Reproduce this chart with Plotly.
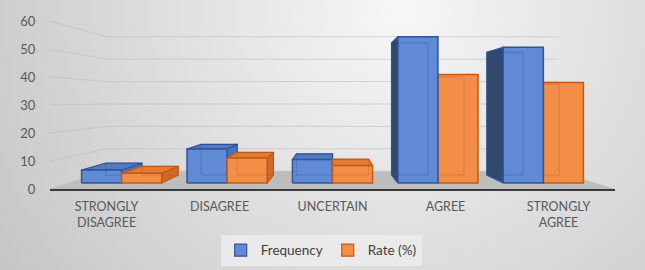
import base64
import plotly.graph_objects as go

# ---------------- data ----------------
categories = ["STRONGLY<br>DISAGREE", "DISAGREE", "UNCERTAIN", "AGREE", "STRONGLY<br>AGREE"]
frequency = [5, 13, 9, 56, 52]
rate = [3.7, 9.6, 6.7, 41.5, 38.5]
y_ticks = [0, 10, 20, 30, 40, 50, 60]
series_names = ["Frequency", "Rate (%)"]

# ---------------- 3D look (perspective) ----------------
XV, VV = 2.0, 31.8            # vanishing point in data units
S_WALL, S_FRONT, S_BACK = 0.80, 0.933, 0.843
BAR_W = 0.38
X_MIN, X_MAX = -0.5, 4.5

BLUE = dict(front="#6089D6", side_dark="#33486E", side="#4C72BC", top="#5578C2",
            line="#2F5597", back="rgba(40,75,140,0.3)")
ORANGE = dict(front="#F28E45", side_dark="#B85E22", side="#CD6B2C", top="#E27C34",
              line="#C55A11", back="rgba(180,80,15,0.3)")


def proj(x, v, s):
    return XV + s * (x - XV), VV + s * (v - VV)


def polygon(pts):
    xs, ys = [], []
    for (x, v, s) in pts + [pts[0]]:
        px, py = proj(x, v, s)
        xs.append(px)
        ys.append(py)
    return xs, ys


fig = go.Figure()

# wall gridlines (left wall + back wall)
gx, gy = [], []
for v in y_ticks:
    for (x, s) in [(X_MIN, 1.0), (X_MIN, S_WALL), (X_MAX, S_WALL)]:
        px, py = proj(x, v, s)
        gx.append(px)
        gy.append(py)
    gx.append(None)
    gy.append(None)
fig.add_trace(go.Scatter(x=gx, y=gy, mode="lines", line=dict(color="rgba(185,185,185,0.55)", width=1),
                         hoverinfo="skip", showlegend=False))

# floor
fx, fy = polygon([(X_MIN, 0, 1.0), (X_MAX, 0, 1.0), (X_MAX, 0, S_WALL), (X_MIN, 0, S_WALL)])
fig.add_trace(go.Scatter(x=fx, y=fy, mode="lines", fill="toself", fillcolor="#BDBDBD",
                         line=dict(width=0), hoverinfo="skip", showlegend=False))


def add_face(pts, fill, line_color, width=1.2):
    xs, ys = polygon(pts)
    fig.add_trace(go.Scatter(x=xs, y=ys, mode="lines", fill="toself", fillcolor=fill,
                             line=dict(color=line_color, width=width), hoverinfo="skip",
                             showlegend=False))


def add_bar(x0, x1, h, col, draw_left_side=True):
    sf, sb = S_FRONT, S_BACK
    if x1 <= XV:
        add_face([(x1, 0, sf), (x1, 0, sb), (x1, h, sb), (x1, h, sf)], col["side"], col["line"])
    elif x0 >= XV and draw_left_side:
        add_face([(x0, 0, sf), (x0, 0, sb), (x0, h, sb), (x0, h, sf)], col["side_dark"], col["line"])
    if h < VV:
        add_face([(x0, h, sf), (x1, h, sf), (x1, h, sb), (x0, h, sb)], col["top"], col["line"])
    add_face([(x0, 0, sf), (x1, 0, sf), (x1, h, sf), (x0, h, sf)], col["front"], col["line"], 1.5)
    bx, by = polygon([(x0, 0, sb), (x1, 0, sb), (x1, h, sb), (x0, h, sb)])
    fig.add_trace(go.Scatter(x=bx, y=by, mode="lines", line=dict(color=col["back"], width=1),
                             hoverinfo="skip", showlegend=False))


order = sorted(range(len(categories)), key=lambda i: -abs(i - XV))
for i in order:
    blue = (i - BAR_W, i, frequency[i], BLUE)
    orange = (i, i + BAR_W, rate[i], ORANGE)
    if i > XV:
        add_bar(*orange, draw_left_side=False)
        add_bar(*blue)
    else:
        add_bar(*blue)
        add_bar(*orange)

# legend entries
for name, col in zip(series_names, [BLUE, ORANGE]):
    fig.add_trace(go.Bar(x=[None], y=[None], name=name,
                         marker=dict(color=col["front"], line=dict(color=col["line"], width=1.2))))

# background gradient
svg = ("<svg xmlns='http://www.w3.org/2000/svg' width='645' height='270' viewBox='0 0 645 270' "
       "preserveAspectRatio='none'><defs><radialGradient id='g' gradientUnits='userSpaceOnUse' "
       "cx='400' cy='10' r='500'><stop offset='0' stop-color='#F7F7F7'/>"
       "<stop offset='1' stop-color='#C3C3C3'/></radialGradient></defs>"
       "<rect width='645' height='270' fill='url(#g)'/></svg>")
src = "data:image/svg+xml;base64," + base64.b64encode(svg.encode()).decode()

L, R, T, B = 50, 30, 21, 81
W, H = 645, 270
PW, PH = W - L - R, H - T - B

fig.update_layout(
    width=W, height=H, autosize=False,
    margin=dict(l=L, r=R, t=T, b=B, pad=0, autoexpand=False),
    paper_bgcolor="#DADADA", plot_bgcolor="rgba(0,0,0,0)",
    font=dict(family="Lato, 'Open Sans', sans-serif", color="#595959"),
    images=[dict(source=src, xref="paper", yref="paper", x=-L / PW, y=1 + T / PH,
                 sizex=W / PW, sizey=H / PH, xanchor="left", yanchor="top",
                 sizing="stretch", layer="below")],
    xaxis=dict(range=[X_MIN, X_MAX], tickmode="array", tickvals=list(range(len(categories))),
               ticktext=categories, showgrid=False, zeroline=False, showline=True,
               linecolor="#3A3A3A", linewidth=2, ticks="outside", ticklen=5,
               tickcolor="rgba(0,0,0,0)", tickfont=dict(size=12.5, color="#595959"),
               automargin=False),
    yaxis=dict(range=[0, 60], tickmode="array", tickvals=y_ticks, showgrid=False, zeroline=False,
               showline=False, ticks="outside", ticklen=11, tickcolor="rgba(0,0,0,0)",
               tickfont=dict(size=13, color="#595959"), automargin=False),
    showlegend=True,
    legend=dict(orientation="h", x=0.48, xanchor="center", yref="container", y=0.13,
                yanchor="top", bgcolor="rgba(236,236,236,0.85)",
                font=dict(size=13.5, color="#404040"), itemwidth=30, traceorder="normal"),
    hovermode=False,
)

fig.write_html("out.html")
